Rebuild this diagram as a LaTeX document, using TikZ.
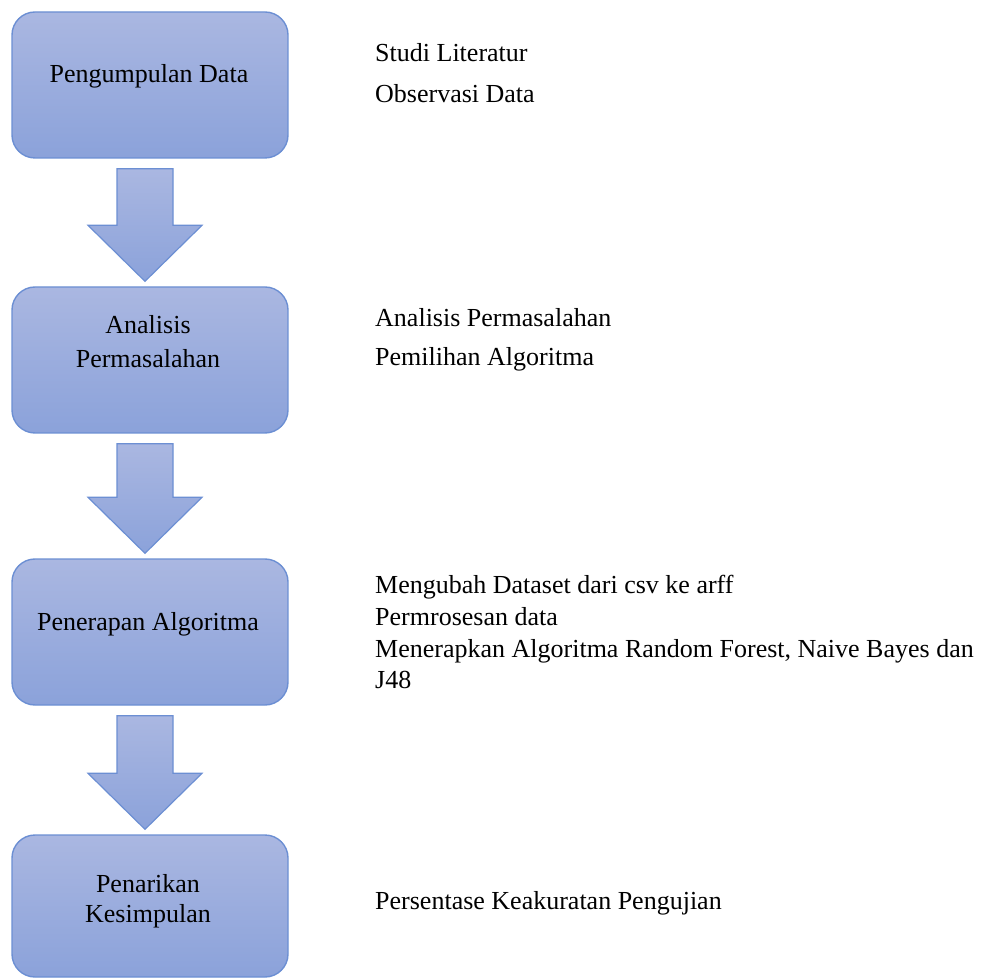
\documentclass[tikz,border=0pt]{standalone}
\usepackage{fontspec}
\setmainfont{Liberation Serif}
\usetikzlibrary{calc}
\definecolor{boxtop}{RGB}{170,183,225}
\definecolor{boxbot}{RGB}{139,162,218}
\definecolor{boxline}{RGB}{108,143,211}
\tikzset{
  flowbox/.style={draw=boxline, line width=1.4pt, rounded corners=23pt,
    top color=boxtop, bottom color=boxbot, minimum width=276pt,
    minimum height=146pt, inner sep=0pt},
  boxlbl/.style={anchor=base, inner sep=0pt, font=\fontsize{26}{30}\selectfont},
  sidelbl/.style={anchor=base west, inner sep=0pt, font=\fontsize{26}{30}\selectfont},
  arrowfill/.style={draw=boxline, line width=1.2pt, top color=boxtop,
    bottom color=boxbot, line join=miter}
}
\newcommand{\blockarr}[2]{%
  \path[arrowfill] let \p1=(#1.south), \p2=(#2.north) in
    (117,\y1-10) -- (173,\y1-10) -- (173,\y2+61) -- (202,\y2+61) --
    (145,\y2+5) -- (88,\y2+61) -- (117,\y2+61) -- cycle;}
\begin{document}
\begin{tikzpicture}[x=1pt,y=1pt]
\useasboundingbox (0,0) rectangle (981,978);
% boxes
\node[flowbox] (b1) at (150,893) {};
\node[flowbox] (b2) at (150,618) {};
\node[flowbox] (b3) at (150,346) {};
\node[flowbox, minimum height=142pt] (b4) at (150,72) {};
% block arrows
\blockarr{b1}{b2}
\blockarr{b2}{b3}
\blockarr{b3}{b4}
% box labels
\node[boxlbl] (l1) at (149,895) {Pengumpulan Data};
\node[boxlbl] (l2a) at (148,644) {Analisis};
\node[boxlbl] (l2b) at (148,610) {Permasalahan};
\node[boxlbl] (l3) at (148,348) {Penerapan Algoritma};
\node[boxlbl] (l4a) at (148,86) {Penarikan};
\node[boxlbl] (l4b) at (148,56) {Kesimpulan};
% side texts
\node[sidelbl] (s1) at (375,916) {Studi Literatur};
\node[sidelbl] (s2) at (375,875) {Observasi Data};
\node[sidelbl] (s3) at (375,651) {Analisis Permasalahan};
\node[sidelbl] (s4) at (375,612) {Pemilihan Algoritma};
\node[sidelbl] (s5) at (375,385) {Mengubah Dataset dari csv ke arff};
\node[sidelbl] (s6) at (375,353) {Permrosesan data};
\node[sidelbl] (s7) at (375,321) {Menerapkan Algoritma Random Forest, Naive Bayes dan};
\node[sidelbl] (s8) at (375,290) {J48};
\node[sidelbl] (s9) at (375,69) {Persentase Keakuratan Pengujian};
\end{tikzpicture}
\end{document}
